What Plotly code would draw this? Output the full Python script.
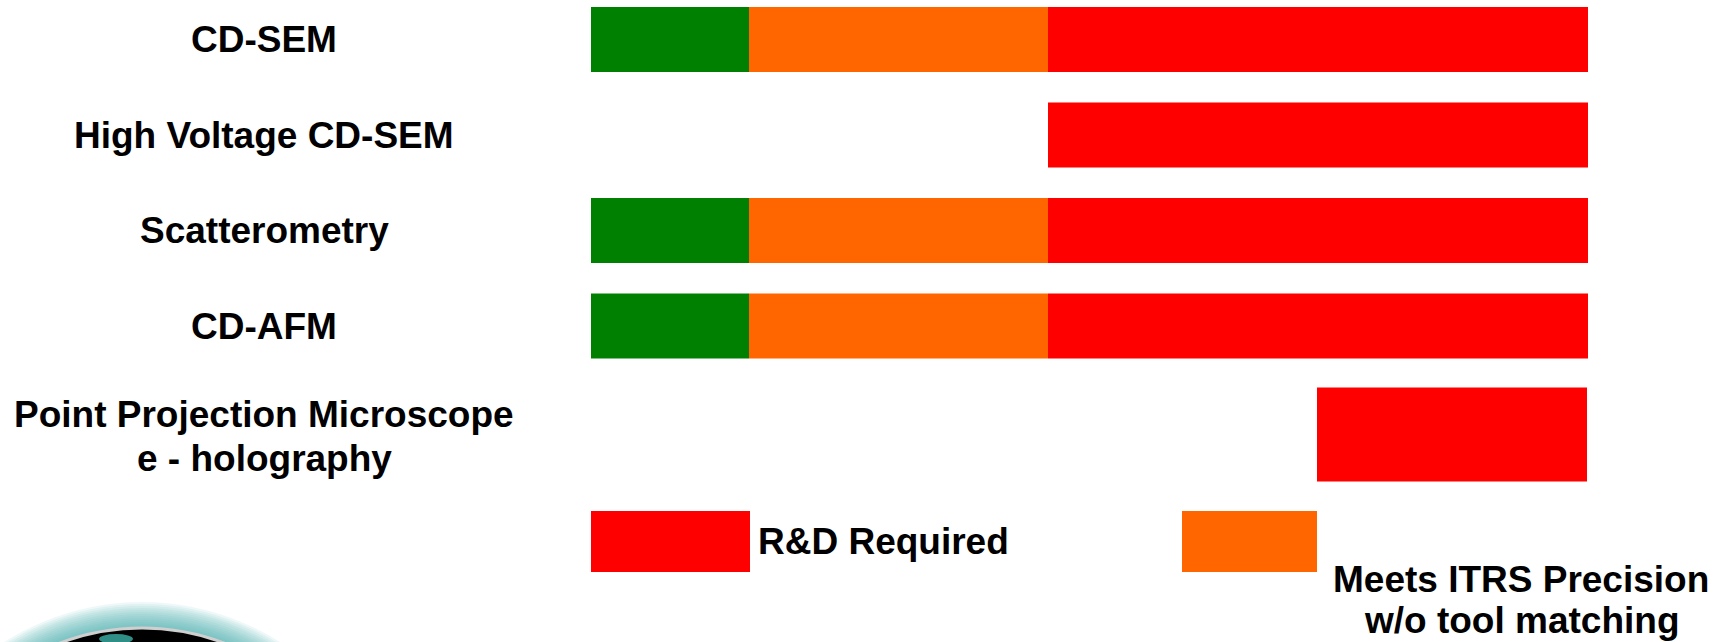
import plotly.graph_objects as go

# Metrology techniques and the status of each along the roadmap
tools = [
    "CD-SEM",
    "High Voltage CD-SEM",
    "Scatterometry",
    "CD-AFM",
    "Point Projection Microscope<br>e - holography",
]

# Segment spans (start, end) along the roadmap for each status; None = not shown
green_start = [0.00, None, 0.00, 0.00, None]
green_end = [1.58, None, 1.58, 1.58, None]
orange_start = [1.58, None, 1.58, 1.58, None]
orange_end = [4.57, None, 4.57, 4.57, None]
red_start = [4.57, 4.57, 4.57, 4.57, 7.26]
red_end = [9.97, 9.97, 9.97, 9.97, 9.96]

legend_labels = ["R&D Required", "Meets ITRS Precision<br>w/o tool matching"]
legend_span = [(0.00, 1.59), (5.91, 7.26)]

GREEN = "#008000"
ORANGE = "#FF6600"
RED = "#FF0000"

W, H = 1731, 642
ROW_PX = 95.5          # vertical distance between rows, in pixels
TOP_PX = 39.5          # centre of first row, in pixels
row_pos = [0, 1, 2, 3, 4.136]
row_thick = [0.68, 0.68, 0.68, 0.68, 0.984]
label_shift = [0, 0, 0, 0, -2]   # small pixel nudges for the row captions

FONT = dict(family="Arial, Liberation Sans, sans-serif", size=37, color="black", weight="bold")


def spans(starts, ends):
    xs, bases, ys, ws = [], [], [], []
    for s, e, y, w in zip(starts, ends, row_pos, row_thick):
        if s is None:
            continue
        xs.append(e - s)
        bases.append(s)
        ys.append(y)
        ws.append(w)
    return xs, bases, ys, ws


def add_text(fig, text, x, xref, y, xanchor, pitch, shift=0):
    """Write a (possibly multi-line) label with a fixed line pitch in pixels."""
    lines = text.split("<br>")
    n = len(lines)
    for i, line in enumerate(lines):
        fig.add_annotation(
            x=x, xref=xref, y=y, yref="y", text=line, showarrow=False,
            xanchor=xanchor, yanchor="middle", align="center", font=FONT,
            yshift=-(i - (n - 1) / 2) * pitch + shift,
        )


fig = go.Figure()
for starts, ends, color in [
    (green_start, green_end, GREEN),
    (orange_start, orange_end, ORANGE),
    (red_start, red_end, RED),
]:
    xs, bases, ys, ws = spans(starts, ends)
    fig.add_trace(go.Bar(
        x=xs, base=bases, y=ys, width=ws, orientation="h",
        marker=dict(color=color, line=dict(width=0)),
        hoverinfo="skip", showlegend=False,
    ))

# Row labels, centred in the left column
for name, y, s in zip(tools, row_pos, label_shift):
    add_text(fig, name, 264 / W, "paper", y, "center", 44, s)

# Legend swatches and captions
leg_y = (541.5 - TOP_PX) / ROW_PX
leg_h = 61 / ROW_PX
for (x0, x1), color in zip(legend_span, [RED, ORANGE]):
    fig.add_shape(type="rect", xref="x", yref="y", x0=x0, x1=x1,
                  y0=leg_y - leg_h / 2, y1=leg_y + leg_h / 2,
                  fillcolor=color, line=dict(width=0), layer="above")

add_text(fig, legend_labels[0], legend_span[0][1] + 0.06, "x", leg_y, "left", 44)
add_text(fig, legend_labels[1], 1521 / W, "paper", (600 - TOP_PX) / ROW_PX, "center", 41)

# Globe emblem peeking in from the lower-left corner
gx, gy, gr = 142 / W, 1 - 860 / H, 232
for extra in range(26, 0, -2):
    fig.add_shape(type="circle", xref="paper", yref="paper",
                  xsizemode="pixel", ysizemode="pixel",
                  xanchor=gx, yanchor=gy,
                  x0=-(gr + extra), x1=gr + extra, y0=-(gr + extra), y1=gr + extra,
                  fillcolor="rgba(70,175,175,0.085)", line=dict(width=0), layer="below")
fig.add_shape(type="circle", xref="paper", yref="paper",
              xsizemode="pixel", ysizemode="pixel", xanchor=gx, yanchor=gy,
              x0=-gr, x1=gr, y0=-gr, y1=gr,
              fillcolor="black", line=dict(color="#cfcfcf", width=3), layer="below")
fig.add_shape(type="circle", xref="paper", yref="paper",
              xsizemode="pixel", ysizemode="pixel", xanchor=116 / W, yanchor=1 - 639 / H,
              x0=-17, x1=17, y0=-5, y1=5,
              fillcolor="#2f8f86", line=dict(width=0), layer="below")

fig.update_layout(
    width=W, height=H,
    margin=dict(l=0, r=0, t=0, b=0),
    paper_bgcolor="white", plot_bgcolor="white",
    barmode="overlay", showlegend=False,
    xaxis=dict(range=[-5.91, (W - 591) / 100], visible=False, fixedrange=True),
    yaxis=dict(range=[(H - TOP_PX) / ROW_PX, -TOP_PX / ROW_PX],
               visible=False, fixedrange=True),
)

fig.write_html("out.html", config={"displayModeBar": False})
